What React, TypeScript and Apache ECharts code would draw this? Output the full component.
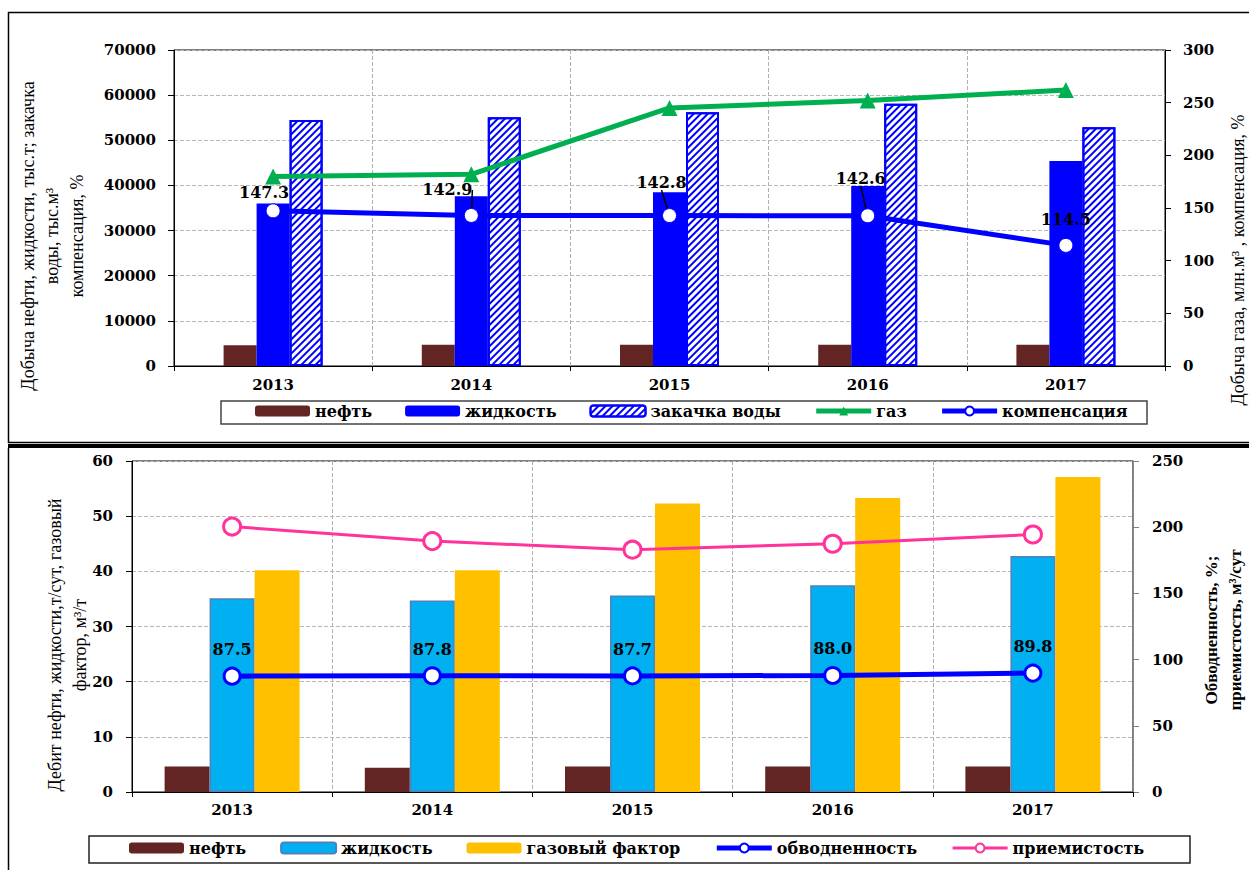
import React, { useEffect, useRef } from "react";
import * as echarts from "echarts";

// ---------- data ----------
const years = ["2013", "2014", "2015", "2016", "2017"];

// top chart
const oilProduction = [4600, 4700, 4700, 4700, 4700];
const liquidProduction = [36000, 37600, 38500, 39900, 45400];
const waterInjection = [54500, 55100, 56200, 58100, 52900];
const gasProduction = [180, 182, 245, 252, 262];
const compensation = [147.3, 142.9, 142.8, 142.6, 114.5];

// bottom chart
const oilRate = [4.6, 4.4, 4.6, 4.6, 4.6];
const liquidRate = [35.1, 34.7, 35.6, 37.5, 42.8];
const gasFactor = [40.2, 40.2, 52.3, 53.3, 57.1];
const waterCut = [87.5, 87.8, 87.7, 88.0, 89.8];
const injectivity = [200.5, 189.5, 183, 187.5, 194.5];

const topLegend = ["нефть", "жидкость", "закачка воды", "газ", "компенсация"];
const bottomLegend = ["нефть ", "жидкость ", "газовый фактор", "обводненность", "приемистость"];

const BOLD = "DejaVu Serif";
const SERIF = "Liberation Serif";

export default function App() {
  const ref = useRef<HTMLDivElement | null>(null);

  useEffect(() => {
    if (!ref.current) return;
    const chart = echarts.init(ref.current, undefined, { renderer: "svg" });

    const compShift = [
      [-9, 2],
      [-24, -5],
      [-8, -13],
      [-7, -17],
      [0, -5],
    ];

    const tickLabel = (margin: number) => ({
      color: "#000",
      fontFamily: BOLD,
      fontWeight: "bold",
      fontSize: 15,
      margin,
    });
    const plainNum = (v: number) => String(v);

    const xAxisBase = (gi: number, margin: number) => ({
      type: "category",
      gridIndex: gi,
      data: years,
      axisLine: { lineStyle: { color: "#000", width: 1 } },
      axisTick: { show: true, length: 5, lineStyle: { color: "#000" } },
      axisLabel: tickLabel(margin),
      splitLine: { show: true, lineStyle: { color: "#B0B0B0", type: "dashed", width: 1 } },
    });

    const split = { show: true, lineStyle: { color: "#B8B8B8", type: "dashed", width: 1 } };

    const legendText = { fontFamily: BOLD, fontWeight: "bold", fontSize: 16, color: "#000" };

    const legendItems = (names: string[], widths: (number | null)[]) =>
      names.map((n, i) => (widths[i] ? { name: n, lineStyle: { width: widths[i] } } : { name: n }));

    const option: any = {
      animation: false,
      backgroundColor: "#fff",
      grid: [
        { left: 174, top: 50, width: 991, height: 316, show: true, borderColor: "#000", borderWidth: 1, backgroundColor: "transparent" },
        { left: 132, top: 461, width: 1001, height: 331, show: true, borderColor: "#000", borderWidth: 1, backgroundColor: "transparent" },
      ],
      xAxis: [xAxisBase(0, 11), xAxisBase(1, 10)],
      yAxis: [
        {
          type: "value", gridIndex: 0, position: "left", min: 0, max: 70000, interval: 10000,
          axisLine: { show: true, lineStyle: { color: "#000" } },
          axisTick: { show: true, length: 6, lineStyle: { color: "#000" } },
          axisLabel: { ...tickLabel(18), formatter: plainNum },
          splitLine: split,
        },
        {
          type: "value", gridIndex: 0, position: "right", min: 0, max: 300, interval: 50,
          axisLine: { show: true, lineStyle: { color: "#000" } },
          axisTick: { show: true, length: 6, lineStyle: { color: "#000" } },
          axisLabel: { ...tickLabel(18), formatter: plainNum },
          splitLine: { show: false },
        },
        {
          type: "value", gridIndex: 1, position: "left", min: 0, max: 60, interval: 10,
          axisLine: { show: true, lineStyle: { color: "#000" } },
          axisTick: { show: true, length: 6, lineStyle: { color: "#000" } },
          axisLabel: { ...tickLabel(19), formatter: plainNum },
          splitLine: split,
        },
        {
          type: "value", gridIndex: 1, position: "right", min: 0, max: 250, interval: 50,
          axisLine: { show: true, lineStyle: { color: "#808080", width: 1.5 } },
          axisTick: { show: true, length: 6, lineStyle: { color: "#808080" } },
          axisLabel: { ...tickLabel(19), formatter: plainNum },
          splitLine: { show: false },
        },
      ],
      legend: [
        {
          data: legendItems(topLegend, [null, null, null, 5, 5]), left: 255, top: 403, padding: 0,
          itemWidth: 55, itemHeight: 11, itemGap: 33,
          selectedMode: false, textStyle: legendText,
        },
        {
          data: legendItems(bottomLegend, [null, null, null, 5, 3]), left: 129, top: 840, padding: 0,
          itemWidth: 55, itemHeight: 11, itemGap: 34,
          selectedMode: false, textStyle: legendText, formatter: (n: string) => n.trim(),
        },
      ],
      series: [
        // ---- top ----
        {
          name: "нефть", type: "bar", xAxisIndex: 0, yAxisIndex: 0, data: oilProduction,
          barWidth: 33, barGap: "0%", itemStyle: { color: "#632523" },
        },
        {
          name: "жидкость", type: "bar", xAxisIndex: 0, yAxisIndex: 0, data: liquidProduction,
          barWidth: 33, barGap: "0%", itemStyle: { color: "#0000FF" },
        },
        {
          name: "закачка воды", type: "bar", xAxisIndex: 0, yAxisIndex: 0, data: waterInjection,
          barWidth: 33, barGap: "0%",
          itemStyle: {
            color: "#FFFFFF", borderColor: "#0000FF", borderWidth: 2,
            decal: { symbol: "rect", symbolSize: 1, color: "#0000FF", backgroundColor: "#FFFFFF", dashArrayX: [1, 0], dashArrayY: [1.5, 2.5], rotation: -Math.PI / 4 },
          },
        },
        {
          name: "газ", type: "line", xAxisIndex: 0, yAxisIndex: 1, data: gasProduction,
          symbol: "triangle", symbolSize: 16,
          lineStyle: { color: "#00B050", width: 5 }, itemStyle: { color: "#00B050" }, z: 3,
        },
        {
          name: "компенсация", type: "line", xAxisIndex: 0, yAxisIndex: 1,
          data: compensation.map((v, i) => ({ value: v, labelLine: { show: i >= 1 && i <= 3 } })),
          symbol: "circle", symbolSize: 14,
          lineStyle: { color: "#0000FF", width: 5 },
          itemStyle: { color: "#FFFFFF", borderColor: "#0000FF", borderWidth: 1 },
          label: { show: true, position: "top", distance: 5, color: "#000", fontFamily: BOLD, fontWeight: "bold", fontSize: 16 },
          labelLine: { show: false, lineStyle: { color: "#000", width: 1.5 } },
          labelLayout: (p: any) => ({ dx: compShift[p.dataIndex][0], dy: compShift[p.dataIndex][1] }),
          z: 4,
        },
        // ---- bottom ----
        {
          name: "нефть ", type: "bar", xAxisIndex: 1, yAxisIndex: 2, data: oilRate,
          barWidth: 45, barGap: "0%", itemStyle: { color: "#632523" },
        },
        {
          name: "жидкость ", type: "bar", xAxisIndex: 1, yAxisIndex: 2, data: liquidRate,
          barWidth: 45, barGap: "0%", itemStyle: { color: "#00B0F0", borderColor: "#4F81BD", borderWidth: 1.5 },
        },
        {
          name: "газовый фактор", type: "bar", xAxisIndex: 1, yAxisIndex: 2, data: gasFactor,
          barWidth: 45, barGap: "0%", itemStyle: { color: "#FFC000" },
        },
        {
          name: "обводненность", type: "line", xAxisIndex: 1, yAxisIndex: 3, data: waterCut,
          symbol: "circle", symbolSize: 16,
          lineStyle: { color: "#0000FF", width: 5 },
          itemStyle: { color: "#FFFFFF", borderColor: "#0000FF", borderWidth: 3 },
          label: {
            show: true, position: "top", distance: 9, color: "#000", fontFamily: BOLD, fontWeight: "bold", fontSize: 16,
            formatter: (p: any) => Number(p.value).toFixed(1),
          },
          z: 4,
        },
        {
          name: "приемистость", type: "line", xAxisIndex: 1, yAxisIndex: 3, data: injectivity,
          symbol: "circle", symbolSize: 17,
          lineStyle: { color: "#FF3399", width: 3 },
          itemStyle: { color: "#FFFFFF", borderColor: "#FF3399", borderWidth: 3 },
          z: 4,
        },
      ],
      graphic: [
        { type: "rect", silent: true, shape: { x: 8.5, y: 12.5, width: 1260, height: 430 }, style: { fill: "none", stroke: "#000", lineWidth: 1.5 } },
        { type: "rect", silent: true, shape: { x: 8, y: 444, width: 1241, height: 4 }, style: { fill: "#000" } },
        { type: "line", silent: true, shape: { x1: 8.5, y1: 448, x2: 8.5, y2: 870 }, style: { stroke: "#000", lineWidth: 1.5 } },
        { type: "rect", silent: true, shape: { x: 221, y: 401, width: 926, height: 23 }, style: { fill: "none", stroke: "#444", lineWidth: 1.5 } },
        { type: "rect", silent: true, shape: { x: 89, y: 836, width: 1101, height: 27 }, style: { fill: "none", stroke: "#222", lineWidth: 1.5 } },
        {
          type: "text", silent: true, x: 52, y: 236, rotation: Math.PI / 2,
          style: {
            text: "Добыча нефти, жидкости, тыс.т; закачка\nводы, тыс.м³\nкомпенсация, %",
            fontFamily: SERIF, fontSize: 18, lineHeight: 24.5, align: "center", verticalAlign: "middle", fill: "#000",
          },
        },
        {
          type: "text", silent: true, x: 1238, y: 260, rotation: Math.PI / 2,
          style: {
            text: "Добыча газа, млн.м³ , компенсация, %",
            fontFamily: SERIF, fontSize: 18, align: "center", verticalAlign: "middle", fill: "#000",
          },
        },
        {
          type: "text", silent: true, x: 67, y: 645, rotation: Math.PI / 2,
          style: {
            text: "Дебит нефти, жидкости,т/сут, газовый\nфактор, м³/т",
            fontFamily: SERIF, fontSize: 18, lineHeight: 25, align: "center", verticalAlign: "middle", fill: "#000",
          },
        },
        {
          type: "text", silent: true, x: 1223, y: 630, rotation: Math.PI / 2,
          style: {
            text: "Обводненность, %;\nприемистость, м³/сут",
            fontFamily: SERIF, fontWeight: "bold", fontSize: 17, lineHeight: 24, align: "center", verticalAlign: "middle", fill: "#000",
          },
        },
      ],
    };

    chart.setOption(option);
    return () => chart.dispose();
  }, []);

  return (
    <div
      ref={ref}
      style={{ position: "fixed", left: 0, top: 0, width: 1249, height: 870, background: "#fff" }}
    />
  );
}
